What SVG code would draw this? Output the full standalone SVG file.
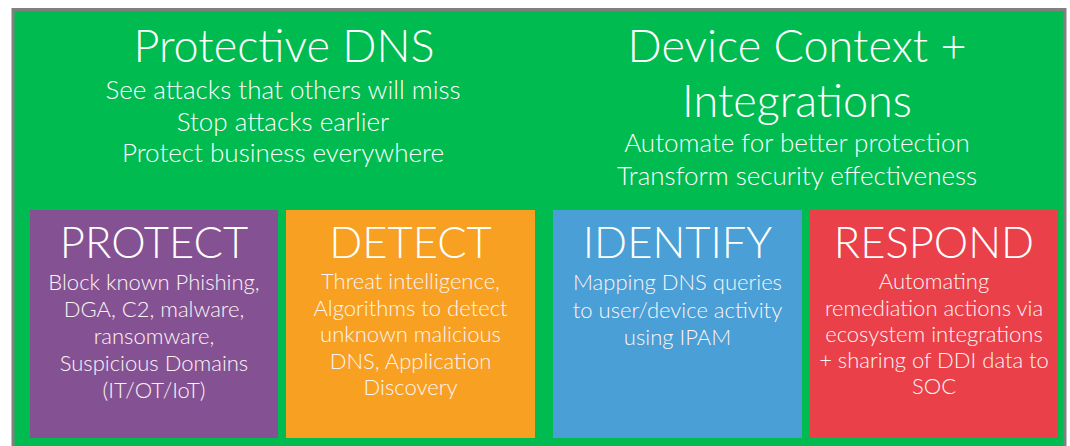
<svg xmlns="http://www.w3.org/2000/svg" width="1070" height="446" viewBox="0 0 1070 446">
<style>
text{font-family:Lato,"Open Sans","Liberation Sans",sans-serif;font-weight:300;fill:#fff;text-anchor:middle}
.h1{font-size:45px}
.h2{font-size:26px}
.bt{font-size:43.5px}
.bd{font-size:22px;fill:#fdf4f4}
</style>
<rect x="0" y="0" width="1070" height="446" fill="#fff"/>
<rect x="11.5" y="8" width="1055" height="440" fill="#808080"/>
<rect x="14.5" y="11" width="1049" height="437" fill="#00bb4f"/>
<g id="protective-dns">
<text class="h1" x="284" y="62">Protective DNS</text>
<text class="h2" x="283" y="99">See attacks that others will miss</text>
<text class="h2" x="283" y="130.5">Stop attacks earlier</text>
<text class="h2" x="283" y="162">Protect business everywhere</text>
</g>
<g id="device-context">
<text class="h1" x="797" y="62">Device Context +</text>
<text class="h1" x="797" y="117">Integrations</text>
<text class="h2" x="797" y="152">Automate for better protection</text>
<text class="h2" x="797" y="185">Transform security effectiveness</text>
</g>
<g id="protect">
<rect x="30" y="210" width="248" height="228" fill="#845292"/>
<text class="bt" x="154" y="257.5">PROTECT</text>
<text class="bd" x="154" y="290">Block known Phishing,</text>
<text class="bd" x="154" y="317">DGA, C2, malware,</text>
<text class="bd" x="154" y="344">ransomware,</text>
<text class="bd" x="154" y="371">Suspicious Domains</text>
<text class="bd" x="154" y="398">(IT/OT/IoT)</text>
</g>
<g id="detect">
<rect x="286" y="210" width="249" height="228" fill="#f7a022"/>
<text class="bt" x="410.5" y="257.5">DETECT</text>
<text class="bd" x="410.5" y="289">Threat intelligence,</text>
<text class="bd" x="410.5" y="315.5">Algorithms to detect</text>
<text class="bd" x="410.5" y="342">unknown malicious</text>
<text class="bd" x="410.5" y="368.5">DNS, Application</text>
<text class="bd" x="410.5" y="395">Discovery</text>
</g>
<g id="identify">
<rect x="553" y="210" width="249" height="228" fill="#4a9fd6"/>
<text class="bt" x="677.5" y="257.5">IDENTIFY</text>
<text class="bd" x="677.5" y="290">Mapping DNS queries</text>
<text class="bd" x="677.5" y="317.5">to user/device activity</text>
<text class="bd" x="677.5" y="345">using IPAM</text>
</g>
<g id="respond">
<rect x="810" y="210" width="248" height="228" fill="#e9404a"/>
<text class="bt" x="934" y="257.5">RESPOND</text>
<text class="bd" x="934" y="289">Automating</text>
<text class="bd" x="934" y="315.5">remediation actions via</text>
<text class="bd" x="934" y="342">ecosystem integrations</text>
<text class="bd" x="934" y="367.5">+ sharing of DDI data to</text>
<text class="bd" x="934" y="393.5">SOC</text>
</g>
<g id="connectors"></g>
</svg>
